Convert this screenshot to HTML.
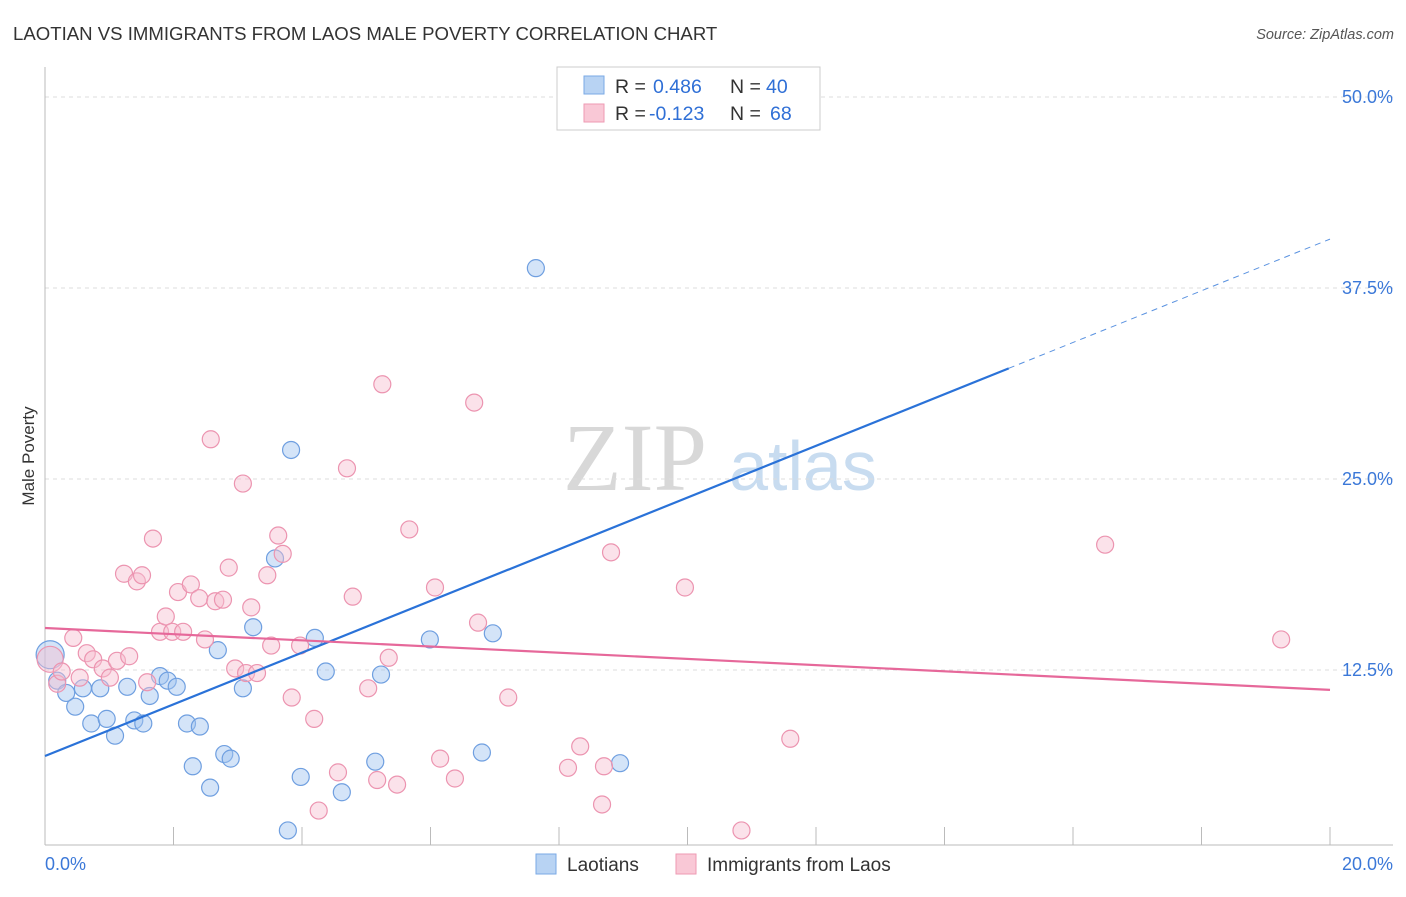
<!DOCTYPE html>
<html><head><meta charset="utf-8"><style>
body{margin:0;background:#fff;font-family:"Liberation Sans",sans-serif}
svg text{font-family:"Liberation Sans",sans-serif}
</style></head><body>
<svg id="chart" width="1406" height="892">
<text x="13" y="40" font-size="18.6" fill="#333">LAOTIAN VS IMMIGRANTS FROM LAOS MALE POVERTY CORRELATION CHART</text>
<text x="1394" y="39" font-size="14.5" fill="#555" font-style="italic" text-anchor="end">Source: ZipAtlas.com</text>
<text x="34" y="456" font-size="17" fill="#333" transform="rotate(-90 34 456)" text-anchor="middle">Male Poverty</text>
<g><text x="635" y="490" font-size="96" fill="#d8d8d8" style="font-family:'Liberation Serif',serif" text-anchor="middle">ZIP</text><text x="803" y="490" font-size="70" fill="#c8dcf0" text-anchor="middle">atlas</text></g>
<g id="grid"></g><g id="axes"></g><g id="pts"></g><g id="lines"></g>
<g>
<rect x="557" y="67" width="263" height="63" fill="#fff" stroke="#ccc"/>
<rect x="584" y="76" width="20" height="18" fill="#b8d3f3" stroke="#7aaae6"/>
<rect x="584" y="104" width="20" height="18" fill="#f9c8d6" stroke="#ee9ab3"/>
<text x="615" y="93" font-size="19.5" fill="#333">R = <tspan fill="#2f6fd6" x="653">0.486</tspan><tspan x="730">N = </tspan><tspan fill="#2f6fd6" x="766">40</tspan></text>
<text x="615" y="120" font-size="19.5" fill="#333">R = <tspan fill="#2f6fd6" x="649">-0.123</tspan><tspan x="730">N = </tspan><tspan fill="#2f6fd6" x="770">68</tspan></text>
</g>
<g>
<rect x="536" y="854" width="20" height="20" fill="#b8d3f3" stroke="#7aaae6"/>
<text x="567" y="871" font-size="19" fill="#333">Laotians</text>
<rect x="676" y="854" width="20" height="20" fill="#f9c8d6" stroke="#ee9ab3"/>
<text x="707" y="871" font-size="19" fill="#333">Immigrants from Laos</text>
</g>
</svg>
<script>
const blueX=[0.08,0.19,0.33,0.47,0.59,0.72,0.86,0.96,1.09,1.28,1.39,1.53,1.63,1.79,1.91,2.05,2.21,2.30,2.41,2.57,2.69,2.79,2.89,3.08,3.24,3.58,3.78,3.83,3.98,4.20,4.37,4.62,5.14,5.23,5.99,6.80,6.97,7.64,8.95];
const blueY=[13.5,11.8,11.0,10.1,11.3,9.0,11.3,9.3,8.2,11.4,9.2,9.0,10.8,12.1,11.8,11.4,9.0,6.2,8.8,4.8,13.8,7.0,6.7,11.3,15.3,19.8,2.0,26.9,5.5,14.6,12.4,4.5,6.5,12.2,14.5,7.1,14.9,38.8,6.4];
const pinkX=[0.08,0.19,0.26,0.44,0.54,0.65,0.75,0.90,1.01,1.12,1.23,1.31,1.43,1.51,1.59,1.68,1.79,1.88,1.98,2.07,2.15,2.27,2.40,2.49,2.58,2.65,2.77,2.86,2.96,3.08,3.13,3.21,3.30,3.46,3.52,3.63,3.70,3.84,3.97,4.19,4.26,4.56,4.70,4.79,5.03,5.17,5.25,5.35,5.48,5.67,6.07,6.15,6.38,6.68,6.74,7.21,8.14,8.33,8.67,8.70,8.81,9.96,10.84,11.60,16.50,19.24];
const pinkY=[13.2,11.6,12.4,14.6,12.0,13.6,13.2,12.6,12.0,13.1,18.8,13.4,18.3,18.7,11.7,21.1,15.0,16.0,15.0,17.6,15.0,18.1,17.2,14.5,27.6,17.0,17.1,19.2,12.6,24.7,12.3,16.6,12.3,18.7,14.1,21.3,20.1,10.7,14.1,9.3,3.3,5.8,25.7,17.3,11.3,5.3,31.2,13.3,5.0,21.7,17.9,6.7,5.4,30.0,15.6,10.7,6.1,7.5,3.7,6.2,20.2,17.9,2.0,8.0,20.7,14.5];
const yTicks=[12.5,25,37.5,50];
const yTickLabels=["12.5%","25.0%","37.5%","50.0%"];
const xTicks=[0,2,4,6,8,10,12,14,16,18,20];
const blueTrend=[6.87,40.7];
const pinkTrend=[15.25,11.2];
const NS="http://www.w3.org/2000/svg";
const X=v=>45+v*64.25, Y=v=>861-v*15.28;
function mk(t,a,p){const e=document.createElementNS(NS,t);for(const k in a)e.setAttribute(k,a[k]);p.appendChild(e);return e;}
const g=document.getElementById('grid'),ax=document.getElementById('axes'),pts=document.getElementById('pts'),ln=document.getElementById('lines');
yTicks.forEach((v,i)=>{
 const l=mk('line',{x1:45,x2:1393,y1:Y(v),y2:Y(v),stroke:'#ddd','stroke-dasharray':'4 4'},g);
 
 
 const t=mk('text',{x:1393,y:Y(v)+6,'font-size':18,fill:'#3b78d8','text-anchor':'end'},g);t.textContent=yTickLabels[i];
 
 
});
mk('line',{x1:45,x2:45,y1:67,y2:845,stroke:'#bbb'},ax);
mk('line',{x1:45,x2:1393,y1:845,y2:845,stroke:'#bbb'},ax);
xTicks.forEach(v=>{const l=mk('line',{x1:X(v),x2:X(v),y1:827,y2:845,stroke:'#bbb'},ax);
 
 });
let t=mk('text',{x:45,y:870,'font-size':18,fill:'#3b78d8'},ax);t.textContent='0.0%';

t=mk('text',{x:1393,y:870,'font-size':18,fill:'#3b78d8','text-anchor':'end'},ax);t.textContent='20.0%';

blueX.forEach((x,i)=>{const c=mk('circle',{cx:X(x),cy:Y(blueY[i]),r:i==0?14:8.5,fill:'rgba(160,195,240,0.45)',stroke:'#6f9fe0','stroke-width':1.2},pts);
 
 });
pinkX.forEach((x,i)=>{const c=mk('circle',{cx:X(x),cy:Y(pinkY[i]),r:i==0?13:8.5,fill:'rgba(247,190,208,0.45)',stroke:'#ec94b0','stroke-width':1.2},pts);
 
 });
const by=x=>blueTrend[0]+(blueTrend[1]-blueTrend[0])*x/20;
let l=mk('line',{x1:X(0),y1:Y(by(0)),x2:X(15),y2:Y(by(15)),stroke:'#2a72d8','stroke-width':2.2},ln);


l=mk('line',{x1:X(15),y1:Y(by(15)),x2:X(20),y2:Y(by(20)),stroke:'#5a92e0','stroke-width':1,'stroke-dasharray':'6 5'},ln);


l=mk('line',{x1:X(0),y1:Y(pinkTrend[0]),x2:X(20),y2:Y(pinkTrend[1]),stroke:'#e6689a','stroke-width':2.2},ln);


</script>
</body></html>
